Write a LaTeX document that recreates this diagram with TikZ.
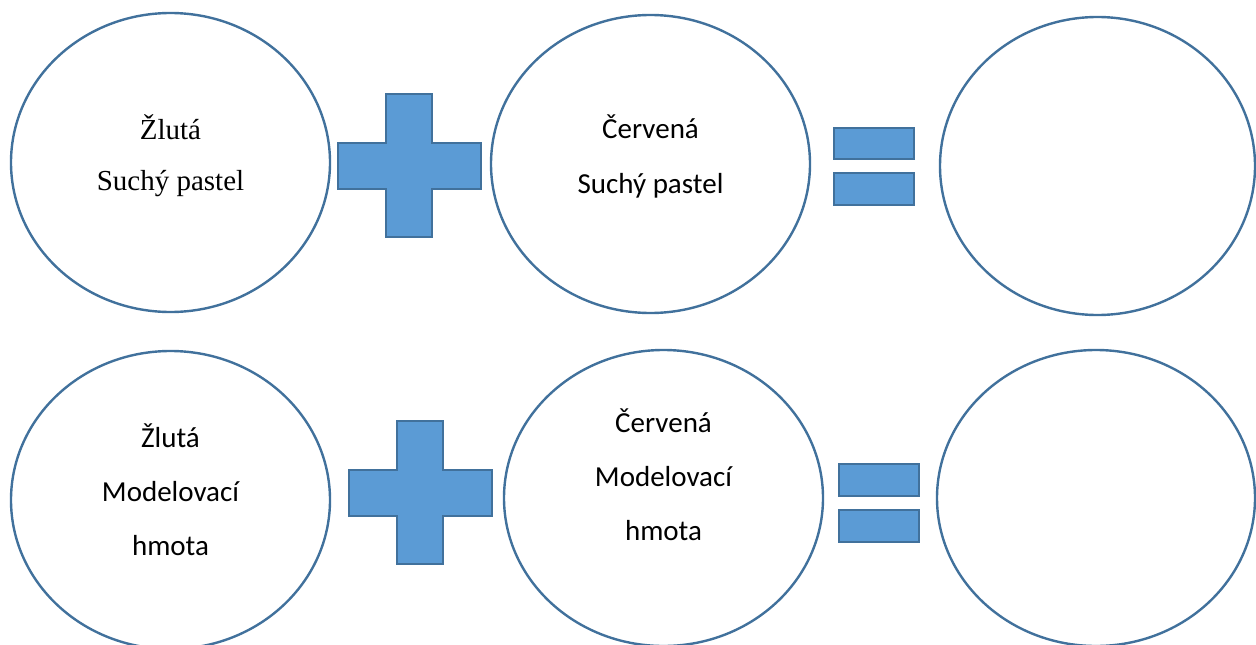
\documentclass[tikz,border=0pt]{standalone}
\usepackage{fontspec}
\setmainfont{Liberation Serif}
\newfontfamily\calibrilike{Carlito}
\usepackage{tikz}
\usetikzlibrary{shapes.geometric}
\definecolor{outlineblue}{HTML}{41719C}
\definecolor{fillblue}{HTML}{5B9BD5}

\tikzset{
  ring/.style={ellipse, draw=outlineblue, line width=2.4pt, inner sep=0pt},
  sign/.style={draw=outlineblue, fill=fillblue, line width=2pt},
  bar/.style={sign, rectangle, minimum width=80pt, minimum height=31.5pt, inner sep=0pt},
  serifword/.style={align=center, font=\fontsize{29}{51}\selectfont},
  sansword/.style={align=center, font=\calibrilike\fontsize{29}{54}\selectfont},
}

\begin{document}
\begin{tikzpicture}[x=1pt, y=-1pt]
    \useasboundingbox (0,0) rectangle (1256,645);

    % first row: dry pastel
    \node[ring, minimum width=319pt, minimum height=299pt] (yellowdry) at (170.5,162.5) {};
    \node[ring, minimum width=319pt, minimum height=298pt] (reddry) at (650.5,164) {};
    \node[ring, minimum width=315pt, minimum height=298pt] (resultdry) at (1097.5,166) {};
    \node[serifword] (yellowdrytext) at (170.5,155.5) {Žlutá\\Suchý pastel};
    \node[sansword, font=\calibrilike\fontsize{29}{55}\selectfont] (reddrytext) at (650.5,156.5) {Červená\\Suchý pastel};

    \draw[sign] (386,94) -- ++(46,0) -- ++(0,48.5) -- ++(48.5,0) -- ++(0,46) -- ++(-48.5,0)
      -- ++(0,48.5) -- ++(-46,0) -- ++(0,-48.5) -- ++(-48.5,0) -- ++(0,-46) -- ++(48.5,0) -- cycle;
    \node[bar] (equaldrytop) at (874,143.5) {};
    \node[bar] (equaldrybottom) at (874,189) {};

    % second row: modelling clay
    \node[ring, minimum width=319pt, minimum height=298pt] (yellowclay) at (170.5,500) {};
    \node[ring, minimum width=319pt, minimum height=296pt] (redclay) at (663.5,498) {};
    \node[ring, minimum width=318pt, minimum height=296pt] (resultclay) at (1096,498) {};
    \node[sansword] (yellowclaytext) at (170.5,489.5) {Žlutá\\Modelovací\\hmota};
    \node[sansword] (redclaytext) at (663.5,474.5) {Červená\\Modelovací\\hmota};

    \draw[sign] (397,421) -- ++(46,0) -- ++(0,48.5) -- ++(48.5,0) -- ++(0,46) -- ++(-48.5,0)
      -- ++(0,48.5) -- ++(-46,0) -- ++(0,-48.5) -- ++(-48.5,0) -- ++(0,-46) -- ++(48.5,0) -- cycle;
    \node[bar] (equalclaytop) at (879,480) {};
    \node[bar] (equalclaybottom) at (879,526) {};
\end{tikzpicture}
\end{document}
